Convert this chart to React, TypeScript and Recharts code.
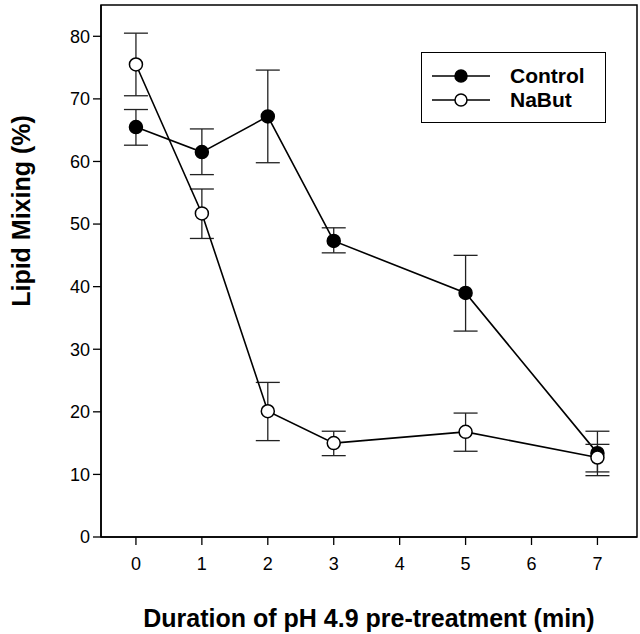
import {
  LineChart,
  Line,
  XAxis,
  YAxis,
  ErrorBar,
  ReferenceArea,
} from 'recharts';

// pre-treatment duration (min)
const times = [0, 1, 2, 3, 5, 7];

const controlMean = [65.5, 61.5, 67.2, 47.3, 39.0, 13.4];
const controlLow = [62.6, 57.9, 59.8, 45.4, 32.9, 9.8];
const controlHigh = [68.3, 65.2, 74.6, 49.4, 45.0, 16.9];

const nabutMean = [75.5, 51.7, 20.1, 15.0, 16.8, 12.7];
const nabutLow = [70.5, 47.7, 15.4, 13.0, 13.7, 10.4];
const nabutHigh = [80.5, 55.6, 24.7, 16.9, 19.8, 14.8];

const xTicks = [0, 1, 2, 3, 4, 5, 6, 7];
const yTicks = [0, 10, 20, 30, 40, 50, 60, 70, 80];

const X_MIN = -0.53;
const X_MAX = 7.6;
const Y_MAX = 85;

const font = '"Liberation Sans", Arial, Helvetica, sans-serif';

const data = times.map((t, i) => ({
  t,
  control: controlMean[i],
  controlErr: [controlMean[i] - controlLow[i], controlHigh[i] - controlMean[i]],
  nabut: nabutMean[i],
  nabutErr: [nabutMean[i] - nabutLow[i], nabutHigh[i] - nabutMean[i]],
}));

const series = [
  { name: 'Control', fill: '#000' },
  { name: 'NaBut', fill: '#fff' },
];

// legend drawn as an overlay box in the top right of the plot
function LegendBox() {
  return (
    <div
      style={{
        position: 'absolute',
        left: 421,
        top: 52,
        width: 185,
        height: 71,
        border: '1.5px solid #000',
        background: '#fff',
        boxSizing: 'border-box',
        paddingTop: 11,
        fontFamily: font,
      }}
    >
      {series.map((s) => (
        <div
          key={s.name}
          style={{ display: 'flex', alignItems: 'center', height: 24, marginLeft: 10 }}
        >
          <svg width={60} height={20}>
            <line x1={0} y1={10} x2={58} y2={10} stroke="#000" strokeWidth={1.5} />
            <circle cx={29} cy={10} r={6} fill={s.fill} stroke="#000" strokeWidth={1.5} />
          </svg>
          <span
            style={{
              marginLeft: 18,
              fontSize: 21,
              fontWeight: 'bold',
              color: '#000',
              lineHeight: '24px',
            }}
          >
            {s.name}
          </span>
        </div>
      ))}
    </div>
  );
}

export default function App() {
  return (
    <div style={{ position: 'absolute', left: 0, top: 0, width: 640, height: 634, background: '#fff' }}>
      <LineChart
        width={640}
        height={634}
        data={data}
        margin={{ top: 5, right: 3, bottom: 67, left: 0 }}
      >
        <XAxis
          dataKey="t"
          type="number"
          domain={[X_MIN, X_MAX]}
          ticks={xTicks}
          allowDataOverflow
          axisLine={{ stroke: '#000', strokeWidth: 1.5 }}
          tickLine={{ stroke: '#000', strokeWidth: 1.3 }}
          tickSize={8}
          tickMargin={12}
          height={30}
          tick={{ fill: '#000', fontSize: 18, fontFamily: font }}
          label={{
            content: ({ viewBox }: any) => (
              <text
                x={viewBox.x + viewBox.width / 2}
                y={627}
                textAnchor="middle"
                fontFamily={font}
                fontWeight="bold"
                fontSize={25}
                fill="#000"
              >
                Duration of pH 4.9 pre-treatment (min)
              </text>
            ),
          }}
        />
        <YAxis
          type="number"
          domain={[0, Y_MAX]}
          ticks={yTicks}
          allowDataOverflow
          width={101}
          axisLine={{ stroke: '#000', strokeWidth: 1.5 }}
          tickLine={{ stroke: '#000', strokeWidth: 1.3 }}
          tickSize={8}
          tickMargin={3}
          tick={{ fill: '#000', fontSize: 18, fontFamily: font }}
          label={{
            content: () => (
              <text
                x={0}
                y={0}
                transform="translate(30, 211) rotate(-90)"
                textAnchor="middle"
                fontFamily={font}
                fontWeight="bold"
                fontSize={25}
                fill="#000"
              >
                Lipid Mixing (%)
              </text>
            ),
          }}
        />
        <ReferenceArea
          x1={X_MIN}
          x2={X_MAX}
          y1={0}
          y2={Y_MAX}
          fill="none"
          stroke="#000"
          strokeWidth={1.5}
        />
        <Line
          dataKey="control"
          name="Control"
          stroke="#000"
          strokeWidth={1.6}
          dot={{ r: 6.5, fill: '#000', stroke: '#000', strokeWidth: 1.5 }}
          activeDot={false}
          isAnimationActive={false}
        >
          <ErrorBar
            dataKey="controlErr"
            direction="y"
            width={12}
            stroke="#222"
            strokeWidth={1.3}
            isAnimationActive={false}
          />
        </Line>
        <Line
          dataKey="nabut"
          name="NaBut"
          stroke="#000"
          strokeWidth={1.6}
          dot={{ r: 6.5, fill: '#fff', stroke: '#000', strokeWidth: 1.5 }}
          activeDot={false}
          isAnimationActive={false}
        >
          <ErrorBar
            dataKey="nabutErr"
            direction="y"
            width={12}
            stroke="#222"
            strokeWidth={1.3}
            isAnimationActive={false}
          />
        </Line>
      </LineChart>
      <LegendBox />
    </div>
  );
}
